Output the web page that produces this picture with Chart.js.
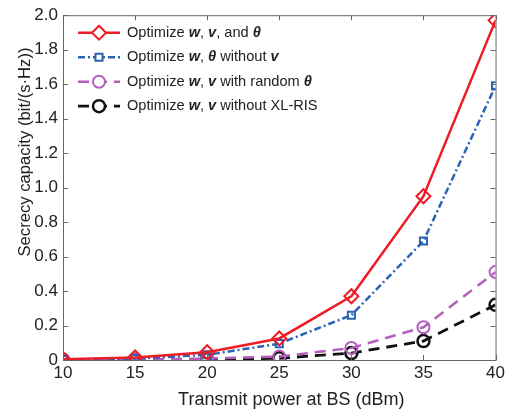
<!DOCTYPE html>
<html>
<head>
<meta charset="utf-8">
<script src="https://cdn.jsdelivr.net/npm/chart.js@4"></script>
<style>
  html, body { margin: 0; padding: 0; background: #fff; }
  #wrap { width: 508px; height: 412px; }
</style>
</head>
<body>
<div id="wrap"><canvas id="chart"></canvas></div>
<script>
// Data
const powerDbm = [10, 15, 20, 25, 30, 35, 40];
const optAll      = [0.005, 0.015, 0.045, 0.125, 0.37, 0.95, 1.97];
const optNoV      = [0.003, 0.008, 0.03, 0.095, 0.26, 0.69, 1.59];
const optRandTh   = [0.002, 0.004, 0.008, 0.02, 0.07, 0.19, 0.51];
const optNoRis    = [0.001, 0.002, 0.004, 0.01, 0.04, 0.11, 0.32];
const xTicks = [10, 15, 20, 25, 30, 35, 40];
const yTicks = [0, 0.2, 0.4, 0.6, 0.8, 1.0, 1.2, 1.4, 1.6, 1.8, 2.0];
const xTitle = 'Transmit power at BS (dBm)';
const yTitle = 'Secrecy capacity (bit/(s·Hz))';

const FONT = "'Liberation Sans', Arial, sans-serif";

// legend text pieces: [text, bold-italic?]
const legendTexts = [
  [['Optimize ', 0], ['w', 1], [', ', 0], ['v', 1], [', and ', 0], ['θ', 1]],
  [['Optimize ', 0], ['w', 1], [', ', 0], ['θ', 1], [' without ', 0], ['v', 1]],
  [['Optimize ', 0], ['w', 1], [', ', 0], ['v', 1], [' with random ', 0], ['θ', 1]],
  [['Optimize ', 0], ['w', 1], [', ', 0], ['v', 1], [' without XL-RIS', 0]]
];

const toXY = arr => arr.map((v, i) => ({ x: powerDbm[i], y: v }));

const datasets = [
  { data: toXY(optAll), borderColor: '#ee1d25', borderWidth: 2.5, borderDash: [],
    pointStyle: 'rectRot', pointRadius: 7, pointBorderWidth: 2 },
  { data: toXY(optNoV), borderColor: '#2b62b5', borderWidth: 2.5, borderDash: [7, 3, 2, 3],
    pointStyle: 'rect', pointRadius: 5, pointBorderWidth: 2 },
  { data: toXY(optRandTh), borderColor: '#b35fbb', borderWidth: 2.5, borderDash: [11, 7],
    pointStyle: 'circle', pointRadius: 6, pointBorderWidth: 2 },
  { data: toXY(optNoRis), borderColor: '#111111', borderWidth: 2.8, borderDash: [11, 7],
    pointStyle: 'circle', pointRadius: 6, pointBorderWidth: 2.5 }
].map(d => Object.assign(d, {
  pointBackgroundColor: 'rgba(0,0,0,0)',
  pointBorderColor: d.borderColor,
  tension: 0,
  fill: false
}));

// box frame + inward ticks on all four sides, axis titles and the legend
const framePlugin = {
  id: 'frame',
  afterDatasetsDraw(chart) {
    const { ctx, chartArea: a, scales } = chart;
    ctx.save();
    ctx.strokeStyle = '#666';
    ctx.lineWidth = 1;
    ctx.setLineDash([]);
    ctx.strokeRect(a.left + 0.5, a.top + 0.5, a.right - a.left, a.bottom - a.top);
    const L = 5;
    ctx.beginPath();
    xTicks.forEach(t => {
      const px = Math.round(scales.x.getPixelForValue(t)) + 0.5;
      ctx.moveTo(px, a.bottom); ctx.lineTo(px, a.bottom - L);
      ctx.moveTo(px, a.top); ctx.lineTo(px, a.top + L);
    });
    yTicks.forEach(t => {
      const py = Math.round(scales.y.getPixelForValue(t)) + 0.5;
      ctx.moveTo(a.left, py); ctx.lineTo(a.left + L, py);
      ctx.moveTo(a.right, py); ctx.lineTo(a.right - L, py);
    });
    ctx.stroke();
    ctx.restore();
  },
  afterDraw(chart) {
    const { ctx, chartArea: a } = chart;
    ctx.save();
    ctx.fillStyle = '#222';
    ctx.textAlign = 'center';
    ctx.textBaseline = 'middle';
    // x title (sits a little right of the axis centre in the original)
    ctx.font = '18px ' + FONT;
    ctx.fillText(xTitle, (a.left + a.right) / 2 + 12, 400);
    // y title, slightly condensed along its length like the original
    ctx.font = '17px ' + FONT;
    const w = ctx.measureText(yTitle).width;
    ctx.save();
    ctx.translate(25, 152);
    ctx.rotate(-Math.PI / 2);
    ctx.scale(209 / w, 1);
    ctx.fillText(yTitle, 0, 0);
    ctx.restore();

    // legend with mixed normal / bold-italic text
    const x0 = a.left + 15, x1 = a.left + 57, tx = a.left + 64;
    ctx.textAlign = 'left';
    datasets.forEach((d, i) => {
      const y = a.top + 17.5 + i * 24.5;
      ctx.strokeStyle = d.borderColor;
      ctx.lineWidth = d.borderWidth;
      ctx.setLineDash(d.borderDash);
      ctx.beginPath();
      ctx.moveTo(x0, y); ctx.lineTo(x1, y);
      ctx.stroke();
      ctx.setLineDash([]);
      ctx.lineWidth = d.pointBorderWidth;
      ctx.fillStyle = '#fff';
      Chart.helpers.drawPoint(ctx, {
        pointStyle: d.pointStyle, radius: d.pointRadius, rotation: 0,
        borderWidth: d.pointBorderWidth
      }, (x0 + x1) / 2, y);
      let cx = tx;
      ctx.fillStyle = '#222';
      legendTexts[i].forEach(([s, bi]) => {
        ctx.font = (bi ? 'italic bold ' : '') + '14.6px ' + FONT;
        ctx.fillText(s, cx, y);
        cx += ctx.measureText(s).width;
      });
    });
    ctx.restore();
  }
};

new Chart(document.getElementById('chart'), {
  type: 'line',
  data: { datasets },
  options: {
    responsive: true,
    maintainAspectRatio: false,
    animation: false,
    layout: { padding: { top: 15, right: 9, left: 0, bottom: 0 } },
    plugins: { legend: { display: false }, tooltip: { enabled: false } },
    scales: {
      x: {
        type: 'linear', min: 10, max: 40,
        afterBuildTicks: s => { s.ticks = xTicks.map(v => ({ value: v })); },
        afterFit: s => { s.height = 52; },
        grid: { display: false, drawTicks: false, tickLength: 0 },
        border: { display: false },
        ticks: { color: '#222', font: { family: FONT, size: 17 }, padding: 3, maxRotation: 0 },
        title: { display: false }
      },
      y: {
        min: 0, max: 2,
        afterBuildTicks: s => { s.ticks = yTicks.map(v => ({ value: v })); },
        afterFit: s => { s.width = 63; },
        grid: { display: false, drawTicks: false, tickLength: 0 },
        border: { display: false },
        ticks: { color: '#222', font: { family: FONT, size: 17 }, padding: 5,
                 callback: v => v === 0 ? '0' : v.toFixed(1) },
        title: { display: false }
      }
    }
  },
  plugins: [framePlugin]
});
</script>
</body>
</html>
